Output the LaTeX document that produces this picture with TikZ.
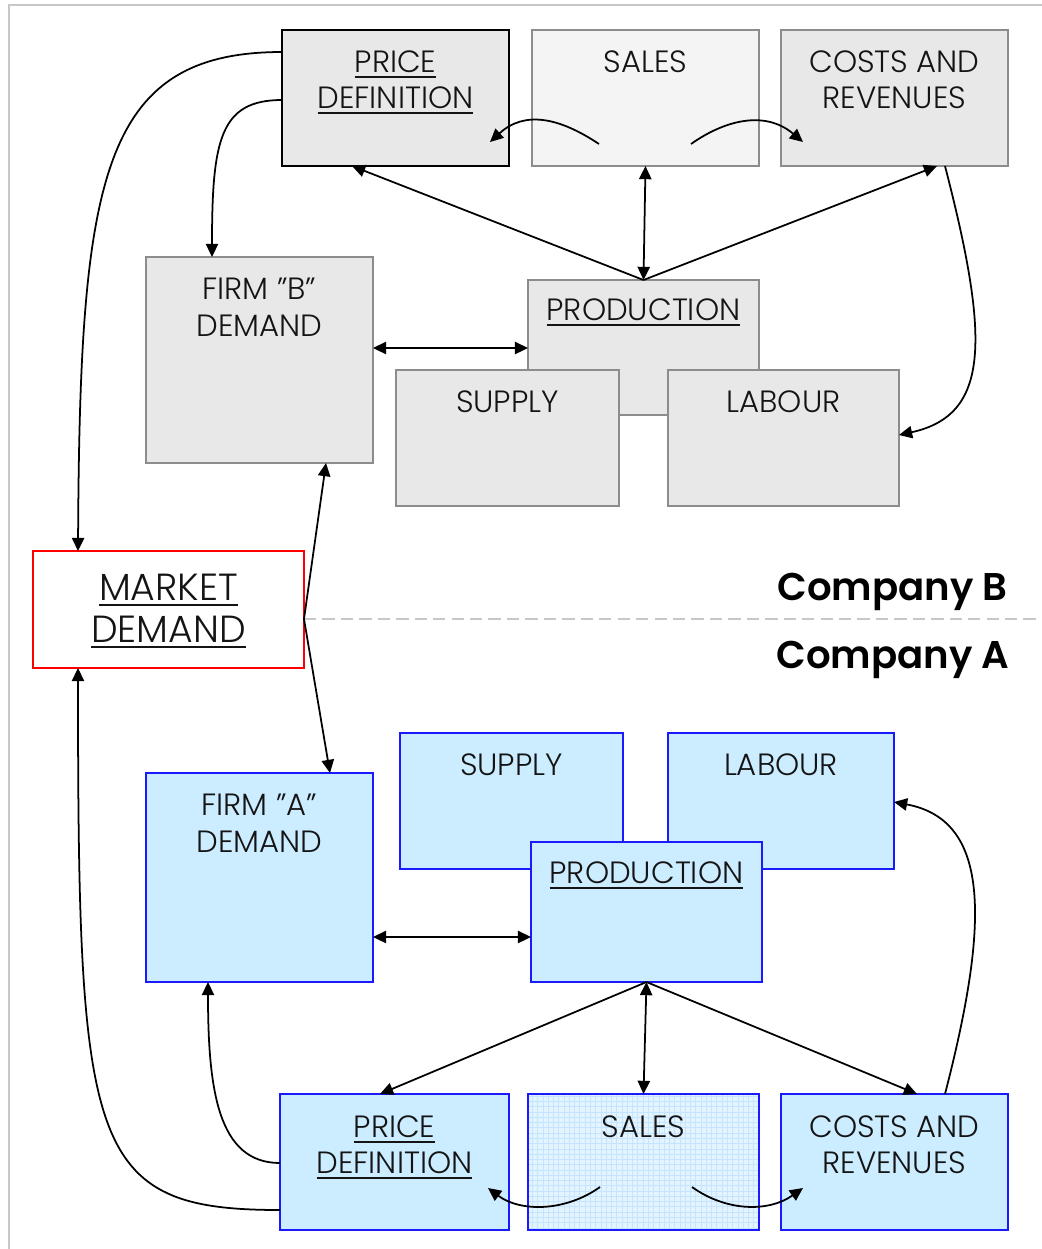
\documentclass[tikz,border=0pt]{standalone}
\usepackage{fontspec}
\setmainfont{Poppins}[UprightFont=* Light, BoldFont=* SemiBold]
\usetikzlibrary{arrows.meta,calc,patterns}

\definecolor{greyfill}{HTML}{E8E8E8}
\definecolor{palefill}{HTML}{F4F4F4}
\definecolor{greyline}{HTML}{8C8C8C}
\definecolor{bluefill}{HTML}{CCECFF}
\definecolor{paleblue}{HTML}{E4F4FF}
\definecolor{gridblue}{HTML}{C4E4FF}
\definecolor{blueline}{HTML}{1A1AFF}
\definecolor{frameline}{HTML}{C8C8C8}

% underlined caption text with a heavier rule
\newcommand\ulbox[1]{\leavevmode\vtop{\hbox{#1}\kern2.4pt\hrule height 1.1pt}}

% \panel{name}{x1}{y1}{x2}{y2}{style}
\newcommand\panel[6]{%
  \node[#6, minimum width={(#4-#2)*0.02cm}, minimum height={(#5-#3)*0.02cm}]
    (#1) at ({(#2+#4)/2},{(#3+#5)/2}) {};}

\tikzset{
  box/.style={rectangle, draw, inner sep=0pt, outer sep=0pt},
  greybox/.style={box, draw=greyline, fill=greyfill, line width=0.85pt},
  palebox/.style={box, draw=greyline, fill=palefill, line width=0.85pt},
  keybox/.style={box, draw=black, fill=greyfill, line width=1.2pt},
  bluebox/.style={box, draw=blueline, fill=bluefill, line width=0.85pt},
  bluekey/.style={box, draw=blueline, fill=bluefill, line width=1.4pt},
  bluegrid/.style={box, draw=blueline, line width=0.85pt,
    preaction={fill=paleblue}, pattern=grid, pattern color=gridblue},
  redbox/.style={box, draw=red, fill=white, line width=1.2pt},
  lbl/.style={anchor=base, inner sep=0pt, text=black!92,
    font=\fontsize{17.5}{20}\selectfont},
  mlbl/.style={anchor=base, inner sep=0pt, text=black!92,
    font=\fontsize{21.5}{24}\selectfont},
  company/.style={anchor=base east, inner sep=0pt,
    font=\bfseries\fontsize{22}{26}\selectfont},
  tip/.style={Triangle[length=7.5pt,width=7pt]},
  arr/.style={-{Triangle[length=7.5pt,width=7pt]}, line width=1pt},
  darr/.style={{Triangle[length=7.5pt,width=7pt]}-{Triangle[length=7.5pt,width=7pt]}, line width=1pt},
}

\begin{document}
\begin{tikzpicture}[x=0.02cm, y=-0.02cm]
\useasboundingbox (0,0) rectangle (1042,1249);

% outer frame (top and left edges)
\draw[frameline, line width=1.2pt] (9,1249) -- (9,5) -- (1042,5);

% ---------------- Company B ----------------
\panel{pdB}{282}{30}{509}{166}{keybox}
\panel{salesB}{532}{30}{759}{166}{palebox}
\panel{crB}{781}{30}{1008}{166}{greybox}
\panel{firmB}{146}{257}{373}{463}{greybox}
\panel{prodB}{528}{280}{759}{415}{greybox}
\panel{supB}{396}{370}{619}{506}{greybox}
\panel{labB}{668}{370}{899}{506}{greybox}

% market
\panel{mkt}{33}{551}{304}{668}{redbox}
\coordinate (mktR) at ($(mkt.north east)+(0,68)$);

% ---------------- Company A ----------------
\panel{supA}{400}{733}{623}{869}{bluebox}
\panel{labA}{668}{733}{894}{869}{bluebox}
\panel{firmA}{146}{773}{373}{982}{bluebox}
\panel{prodA}{531}{842}{762}{982}{bluekey}
\panel{pdA}{280}{1094}{509}{1230}{bluekey}
\panel{salesA}{528}{1094}{759}{1230}{bluegrid}
\panel{crA}{781}{1094}{1008}{1230}{bluebox}

% captions
\node[lbl] (pdBa) at ($(pdB.north)+(0,42)$) {\ulbox{PRICE}};
\node[lbl] (pdBb) at ($(pdB.north)+(0,78)$) {\ulbox{DEFINITION}};
\node[lbl] (salesBa) at ($(salesB.north)+(0,42)$) {SALES};
\node[lbl] (crBa) at ($(crB.north)+(0,42)$) {COSTS AND};
\node[lbl] (crBb) at ($(crB.north)+(0,78)$) {REVENUES};
\node[lbl] (firmBa) at ($(firmB.north)+(0,42)$) {FIRM ”B”};
\node[lbl] (firmBb) at ($(firmB.north)+(0,79)$) {DEMAND};
\node[lbl] (prodBa) at ($(prodB.north)+(0,40)$) {\ulbox{PRODUCTION}};
\node[lbl] (supBa) at ($(supB.north)+(0,42)$) {SUPPLY};
\node[lbl] (labBa) at ($(labB.north)+(0,42)$) {LABOUR};

\node[mlbl] (mkta) at ($(mkt.north)+(0,49)$) {\ulbox{MARKET}};
\node[mlbl] (mktb) at ($(mkt.north)+(0,91)$) {\ulbox{DEMAND}};

\node[lbl] (supAa) at ($(supA.north)+(0,42)$) {SUPPLY};
\node[lbl] (labAa) at ($(labA.north)+(0,42)$) {LABOUR};
\node[lbl] (firmAa) at ($(firmA.north)+(0,42)$) {FIRM ”A”};
\node[lbl] (firmAb) at ($(firmA.north)+(0,79)$) {DEMAND};
\node[lbl] (prodAa) at ($(prodA.north)+(0,41)$) {\ulbox{PRODUCTION}};
\node[lbl] (pdAa) at ($(pdA.north)+(0,43)$) {\ulbox{PRICE}};
\node[lbl] (pdAb) at ($(pdA.north)+(0,79)$) {\ulbox{DEFINITION}};
\node[lbl] (salesAa) at ($(salesA.north)+(0,43)$) {SALES};
\node[lbl] (crAa) at ($(crA.north)+(0,43)$) {COSTS AND};
\node[lbl] (crAb) at ($(crA.north)+(0,79)$) {REVENUES};

% divider between the two companies
\coordinate (divEnd) at (1042,619);
\draw[frameline, line width=1.2pt, dash pattern=on 7pt off 3.5pt] (mktR) -- (divEnd);
\node[company] (coB) at (1008,600) {Company B};
\node[company] (coA) at (1010,668) {Company A};

% ---------------- connectors, Company B ----------------
\draw[arr] ($(pdB.north west)+(0,22)$) .. controls +(-182,0) and +(2,-371) .. ($(mkt.north west)+(45,0)$);
\draw[arr] ($(pdB.north west)+(0,70)$) .. controls +(-62,0) and +(0,-117) .. ($(firmB.north west)+(66,0)$);
\draw[arr] ($(salesB.center)+(-46.5,46)$) .. controls +(-39,-26) and +(35,-32) .. ($(pdB.center)+(94.5,44)$);
\draw[arr] ($(salesB.center)+(45.5,46)$) .. controls +(34,-24) and +(-38,-32) .. ($(crB.center)+(-91.5,44)$);
\draw[arr] (prodB.north) -- ($(pdB.south west)+(70,0)$);
\draw[darr] (prodB.north) -- (salesB.south);
\draw[arr] (prodB.north) -- ($(crB.south west)+(156,0)$);
\draw[arr] ($(crB.south west)+(164,0)$) .. controls +(45,174) and +(91,-20) .. ($(labB.north east)+(0,65)$);
\draw[darr] ($(firmB.north east)+(0,91)$) -- ($(prodB.north west)+(0,68)$);

% market links
\draw[arr] (mktR) -- ($(firmB.south west)+(180,0)$);
\draw[arr] (mktR) -- ($(firmA.north west)+(184,0)$);

% ---------------- connectors, Company A ----------------
\draw[arr] ($(pdA.north west)+(0,116)$) .. controls +(-192,0) and +(0,482) .. ($(mkt.south west)+(45,0)$);
\draw[arr] ($(pdA.north west)+(0,69)$) .. controls +(-62,0) and +(0,108) .. ($(firmA.south west)+(62,0)$);
\draw[arr] ($(salesA.center)+(-43.5,25)$) .. controls +(-35,25) and +(32,24) .. ($(pdA.center)+(93.5,26)$);
\draw[arr] ($(salesA.center)+(48.5,25)$) .. controls +(35,25) and +(-34,24) .. ($(crA.center)+(-91.5,26)$);
\draw[arr] (prodA.south) -- ($(pdA.north west)+(100,0)$);
\draw[darr] (prodA.south) -- (salesA.north);
\draw[arr] (prodA.south) -- ($(crA.north west)+(136,0)$);
\draw[arr] ($(crA.north west)+(164,0)$) .. controls +(45,-174) and +(96,18) .. ($(labA.north east)+(0,69)$);
\draw[darr] ($(firmA.north east)+(0,164)$) -- ($(prodA.north west)+(0,95)$);
\end{tikzpicture}
\end{document}
